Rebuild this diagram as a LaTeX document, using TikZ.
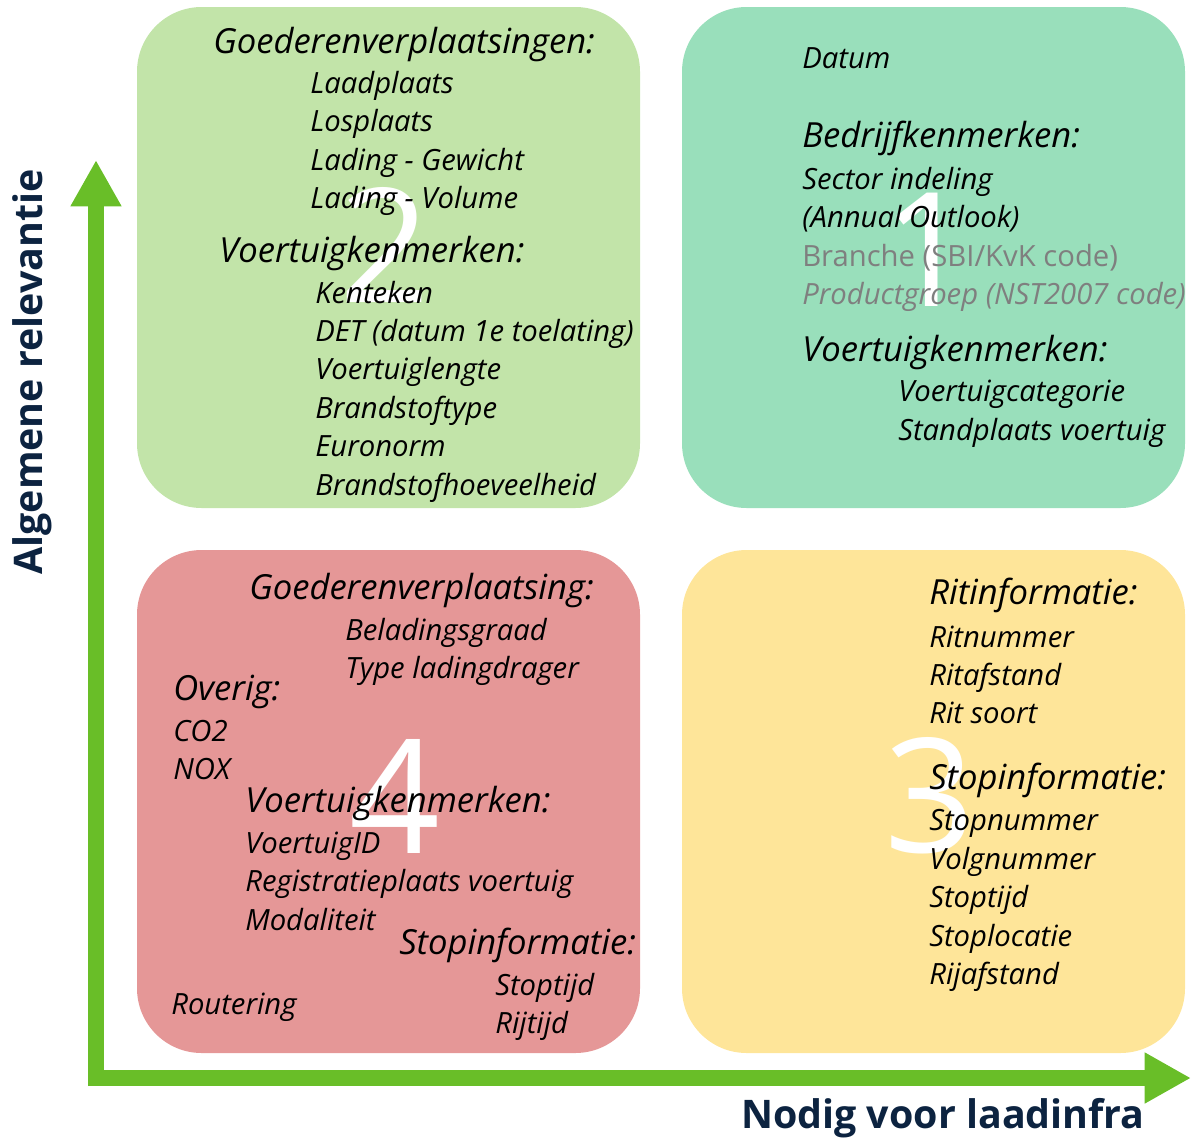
\documentclass[tikz,border=0pt]{standalone}
\usepackage{fontspec}
\setmainfont{Open Sans}
\usepackage{xcolor}
\usepackage{tikz}
\usetikzlibrary{arrows.meta}

\definecolor{arrowgreen}{HTML}{69BE28}
\definecolor{navy}{HTML}{0C2340}
\definecolor{quadgreen}{HTML}{C2E4A9}
\definecolor{quadteal}{HTML}{99DFBB}
\definecolor{quadred}{HTML}{E59797}
\definecolor{quadyellow}{HTML}{FEE599}
\definecolor{softgray}{HTML}{7F7F7F}

\newcommand{\itemfont}{\fontsize{20.8pt}{25pt}\selectfont\itshape}
\newcommand{\headfont}{\fontsize{24.6pt}{29pt}\selectfont\itshape}
\newcommand{\numfont}{\fontsize{113pt}{120pt}\selectfont}
\newcommand{\labelfont}{\fontsize{28pt}{34pt}\selectfont\bfseries}

\begin{document}
\begin{tikzpicture}[x=0.025cm,y=-0.025cm,
  quad/.style={rounded corners=46pt},
  item/.style={anchor=base west,inner sep=0pt,font=\itemfont},
  head/.style={anchor=base west,inner sep=0pt,font=\headfont},
  bignum/.style={text=white,font=\numfont,inner sep=0pt},
  axis/.style={draw=arrowgreen,line width=11.4pt,-{Triangle[length=33pt,width=34pt]}},
  axislabel/.style={text=navy,font=\labelfont,inner sep=0pt}]
\useasboundingbox (0,0) rectangle (1191,1144);

\fill[quadgreen,quad] (137,7) rectangle (640,508);
\fill[quadteal,quad] (682,7) rectangle (1185,508);
\fill[quadred,quad] (137,550) rectangle (640,1053);
\fill[quadyellow,quad] (682,550) rectangle (1185,1053);

\node[bignum] (n2) at (385,245) {2};
\node[bignum] (n1) at (928,250) {1};
\node[bignum] (n4) at (395,796) {4};
\node[bignum] (n3) at (930,796) {3};

\node[head] (g2) at (213,53) {Goederenverplaatsingen:};
\node[item] (g2a) at (310,93) {Laadplaats};
\node[item] (g2b) at (310,131) {Losplaats};
\node[item] (g2c) at (310,170) {Lading - Gewicht};
\node[item] (g2d) at (310,208) {Lading - Volume};
\node[head] (v2) at (219,262) {Voertuigkenmerken:};
\node[item] (v2a) at (315,303) {Kenteken};
\node[item] (v2b) at (315,341) {DET (datum 1e toelating)};
\node[item] (v2c) at (315,379) {Voertuiglengte};
\node[item] (v2d) at (315,418) {Brandstoftype};
\node[item] (v2e) at (315,456) {Euronorm};
\node[item] (v2f) at (315,495) {Brandstofhoeveelheid};

\node[item] (d1) at (802,68) {Datum};
\node[head] (b1) at (802,147) {Bedrijfkenmerken:};
\node[item] (b1a) at (802,189) {Sector indeling};
\node[item] (b1b) at (802,227) {(Annual Outlook)};
\node[item,text=softgray,font=\itemfont\upshape] (b1c) at (802,266) {Branche (SBI/KvK code)};
\node[item,text=softgray] (b1d) at (802,304) {Productgroep (NST2007 code)};
\node[head] (v1) at (802,361) {Voertuigkenmerken:};
\node[item] (v1a) at (898,401) {Voertuigcategorie};
\node[item] (v1b) at (898,440) {Standplaats voertuig};

\node[head] (g4) at (249,599) {Goederenverplaatsing:};
\node[item] (g4a) at (345,640) {Beladingsgraad};
\node[item] (g4b) at (345,678) {Type ladingdrager};
\node[head] (o4) at (173,700) {Overig:};
\node[item] (o4a) at (173,741) {CO2};
\node[item] (o4b) at (173,779) {NOX};
\node[head] (v4) at (245,812) {Voertuigkenmerken:};
\node[item] (v4a) at (245,853) {VoertuigID};
\node[item] (v4b) at (245,891) {Registratieplaats voertuig};
\node[item] (v4c) at (245,930) {Modaliteit};
\node[head] (s4) at (399,954) {Stopinformatie:};
\node[item] (s4a) at (495,995) {Stoptijd};
\node[item] (s4b) at (495,1033) {Rijtijd};
\node[item] (r4) at (171,1014) {Routering};

\node[head] (r3) at (929,604) {Ritinformatie:};
\node[item] (r3a) at (929,647) {Ritnummer};
\node[item] (r3b) at (929,685) {Ritafstand};
\node[item] (r3c) at (929,723) {Rit soort};
\node[head] (s3) at (929,789) {Stopinformatie:};
\node[item] (s3a) at (929,830) {Stopnummer};
\node[item] (s3b) at (929,869) {Volgnummer};
\node[item] (s3c) at (929,907) {Stoptijd};
\node[item] (s3d) at (929,946) {Stoplocatie};
\node[item] (s3e) at (929,984) {Rijafstand};

\coordinate (ystart) at (96,1086);
\coordinate (ytip) at (96,160);
\coordinate (xstart) at (88,1078);
\coordinate (xtip) at (1191,1078);
\draw[axis] (ystart) -- (ytip);
\draw[axis] (xstart) -- (xtip);

\node[axislabel,rotate=90] (ylab) at (32,372) {Algemene relevantie};
\node[axislabel] (xlab) at (943,1118) {Nodig voor laadinfra};
\end{tikzpicture}
\end{document}
